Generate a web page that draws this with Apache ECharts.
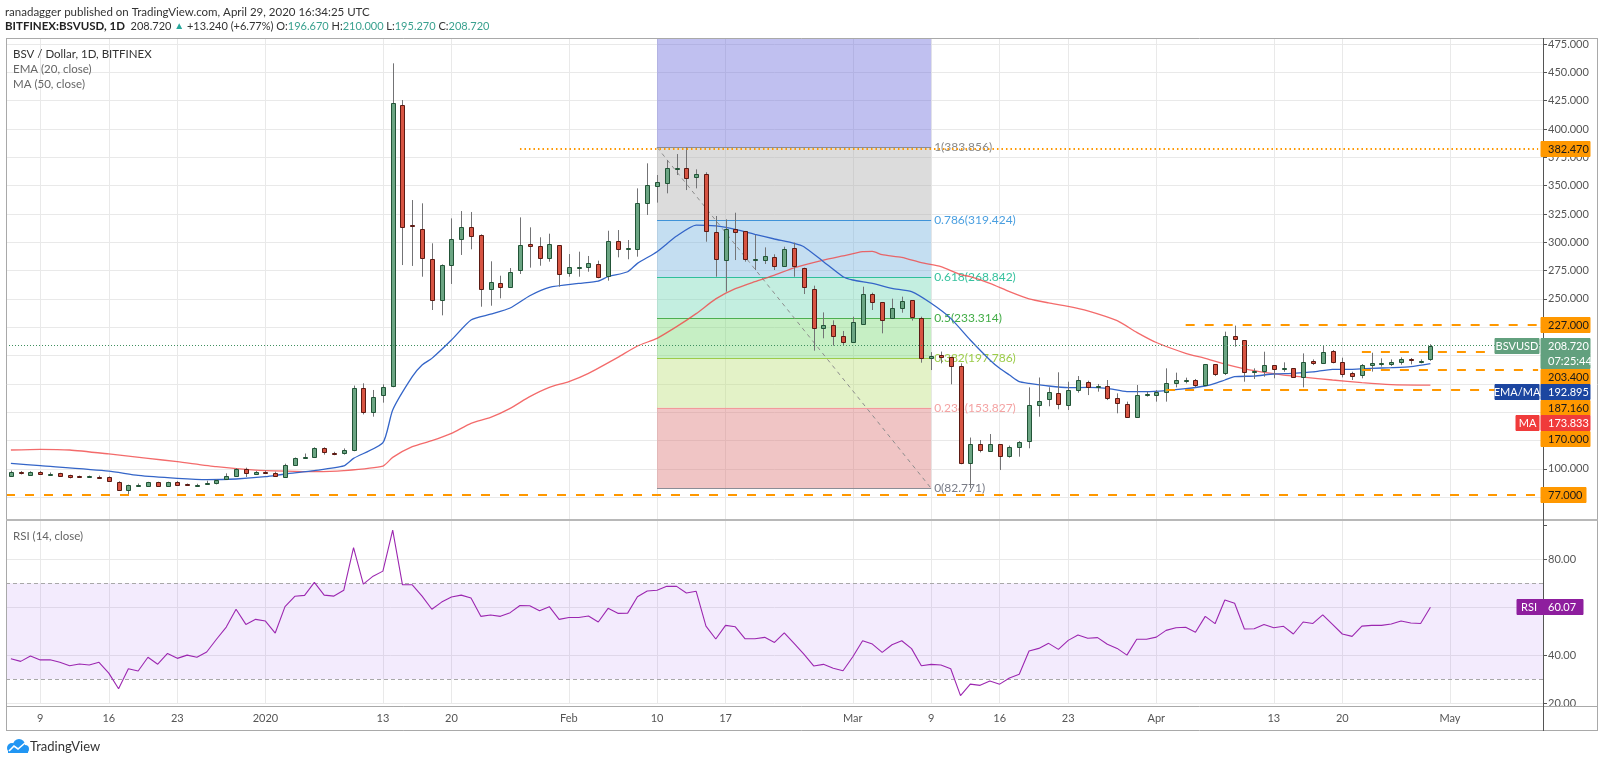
<!DOCTYPE html>
<html><head><meta charset="utf-8">
<script src="https://cdn.jsdelivr.net/npm/echarts@6/dist/echarts.min.js"></script>
<style>html,body{margin:0;padding:0;background:#fff;}#c{width:1600px;height:763px;}</style>
</head><body><div id="c"></div>
<script>
// ---------------- DATA ----------------
const firstDate = '2019-12-06';
const categoryCount = 157; // Dec 6 2019 .. May 10 2020
const tickLabels = {'2019-12-09':'9','2019-12-16':'16','2019-12-23':'23','2020-01-01':'2020','2020-01-13':'13','2020-01-20':'20','2020-02-01':'Feb','2020-02-10':'10','2020-02-17':'17','2020-03-01':'Mar','2020-03-09':'9','2020-03-16':'16','2020-03-23':'23','2020-04-01':'Apr','2020-04-13':'13','2020-04-20':'20','2020-05-01':'May'};

const opens = [93.9,97.5,94.8,97.5,95.6,96.0,94.2,93.4,93.3,93.2,
92.8,88.6,81.3,85.5,84.8,88.0,84.8,88.6,86.4,86.0,
86.6,87.2,90.7,93.6,99.8,95.4,97.2,96.6,93.0,103.1,
109.5,110.1,118.1,113.7,113.6,116.6,171.0,150.5,165.2,173.1,
421.2,315.0,311.4,285.2,249.0,279.9,302.9,313.8,306.4,258.4,
263.7,260.2,275.5,298.8,296.4,286.4,297.3,272.6,278.0,277.9,
280.5,270.5,301.1,294.3,293.8,334.4,349.6,352.0,365.5,365.3,
357.4,360.6,308.8,284.0,311.4,310.0,285.5,284.3,287.3,279.4,
294.7,277.6,258.4,224.0,226.7,217.5,211.7,227.5,254.0,247.3,
232.8,242.2,249.0,232.8,197.5,200.3,198.4,190.5,105.4,121.8,
115.5,121.9,111.6,119.6,124.6,156.0,161.3,167.0,156.0,169.3,
176.3,173.1,173.1,162.8,157.5,146.0,166.0,165.4,167.5,175.4,
178.4,178.4,174.0,192.2,184.9,217.5,213.4,186.3,186.6,191.3,
188.9,188.7,181.3,195.5,193.1,204.0,194.0,184.3,182.8,191.6,
193.4,192.2,194.0,196.9,195.2,196.67];
const highs = [98.4,98.0,97.8,98.0,96.8,96.5,94.8,94.0,94.0,94.0,
93.3,89.0,86.0,87.0,88.5,88.6,88.6,89.2,87.0,86.8,
89.5,90.7,96.0,100.7,101.0,98.0,98.5,97.5,104.5,110.0,
113.5,119.0,119.0,115.0,118.0,173.5,175.5,169.6,174.6,458.0,
425.6,337.3,334.4,299.1,280.5,321.1,327.6,326.7,307.0,283.2,
270.5,277.3,322.0,313.2,304.4,307.6,297.3,289.6,291.7,287.9,
283.8,310.2,310.8,302.0,347.6,369.7,359.4,372.6,377.9,383.86,
364.4,361.8,323.2,320.3,326.1,310.0,306.4,295.5,289.4,296.1,
299.7,277.6,261.7,238.1,231.1,221.7,234.3,260.8,255.5,247.3,
250.2,252.0,249.0,234.3,203.0,203.5,199.0,193.1,127.6,125.4,
130.7,121.9,120.5,124.5,171.9,180.6,172.0,185.2,176.9,181.9,
177.8,174.9,178.4,166.6,159.3,174.0,168.1,169.6,188.7,184.9,
180.5,179.3,192.2,192.2,221.1,226.4,213.4,188.7,203.4,191.3,
194.0,188.7,201.9,196.6,208.7,204.9,198.1,185.7,192.5,202.5,
197.5,196.6,198.4,197.8,196.6,210.0];
const lows = [93.3,95.0,94.3,94.6,94.8,93.5,91.5,92.5,92.7,92.5,
89.0,80.5,77.3,84.0,84.0,84.5,84.3,85.0,85.5,85.2,
86.0,86.2,90.3,93.0,92.8,94.5,96.0,93.0,92.5,102.5,
109.0,109.5,112.5,112.0,112.5,115.5,148.0,146.0,158.4,172.0,
279.9,279.1,269.6,240.2,235.5,263.2,288.8,293.8,243.1,244.0,
250.5,260.0,272.0,277.6,279.3,282.9,260.8,269.6,269.6,274.0,
268.2,266.1,286.7,285.0,287.3,324.1,335.0,343.2,359.4,346.1,
347.6,300.5,269.6,256.4,284.3,282.9,275.5,280.8,275.5,279.1,
269.6,254.3,204.3,215.2,208.7,209.3,211.7,227.5,240.2,219.6,
232.8,237.8,230.8,193.7,187.2,193.1,174.6,104.0,82.77,114.5,
115.1,98.9,109.8,110.7,118.1,146.0,155.2,152.5,151.9,167.2,
165.1,168.1,160.7,149.0,145.4,146.0,163.7,159.3,159.3,171.9,
175.4,171.9,174.0,181.9,182.8,207.8,176.9,179.3,181.3,179.9,
185.7,180.7,171.9,191.6,192.5,193.1,180.7,178.4,179.9,185.8,
190.2,190.8,191.9,192.2,193.1,195.27];
const closes = [97.5,96.0,97.2,95.1,95.8,93.9,92.5,93.2,93.4,93.0,
89.5,81.3,85.4,85.8,88.0,85.1,88.0,85.7,86.2,86.1,
87.8,90.1,93.6,99.8,96.0,97.2,97.0,93.6,103.1,109.2,
110.7,118.1,114.5,113.5,116.6,171.0,150.5,163.7,172.5,422.7,
313.2,314.3,286.4,249.0,279.9,302.9,313.8,305.8,258.4,264.6,
260.2,273.5,297.3,296.4,286.4,298.2,272.0,278.5,278.2,281.4,
269.6,301.1,293.8,295.2,334.4,350.6,352.9,365.3,365.6,357.0,
360.4,310.2,284.9,311.4,309.4,285.2,285.6,287.9,279.1,294.1,
279.1,260.2,224.6,226.7,217.5,212.0,229.3,254.0,247.6,231.4,
242.3,248.1,234.3,197.5,200.0,198.7,190.8,105.0,121.9,116.6,
121.9,111.7,119.6,123.4,156.0,159.9,167.8,157.0,169.3,178.4,
171.9,173.2,162.8,157.8,146.0,165.1,166.2,167.5,175.4,178.1,
178.5,174.0,192.2,184.0,217.5,214.3,185.7,186.4,191.3,187.8,
189.0,181.3,194.6,193.1,203.4,194.0,183.7,181.9,191.6,193.7,
193.5,194.3,196.9,195.8,195.48,208.72];

// EMA(20) and MA(50) at these day indexes
const ema20 = [[0,104.8],[3,102.8],[10,98.0],[13,94.2],[17,91.6],[20,90.4],[23,91.0],[26,93.0],[28,95.4],[31,98.4],[34,102.5],[35,109.2],[38,123.1],[39,151.9],[41,181.3],[42,191.6],[43,197.5],[45,213.7],[47,231.4],[49,236.5],[51,242.0],[53,252.8],[55,260.2],[58,263.7],[60,265.8],[61,269.6],[63,274.0],[64,281.4],[66,291.7],[68,305.5],[70,315.2],[72,314.4],[74,311.4],[76,307.0],[78,302.9],[80,299.1],[81,296.1],[83,282.9],[85,269.6],[86,266.7],[88,263.7],[90,259.3],[92,256.4],[94,246.1],[96,232.8],[98,213.7],[100,196.1],[101,188.7],[102,182.8],[103,176.9],[104,175.5],[106,173.1],[108,171.6],[110,171.9],[112,171.0],[114,168.1],[116,168.1],[118,169.0],[120,170.7],[122,173.1],[123,175.4],[124,178.4],[125,181.3],[127,181.9],[129,183.7],[131,184.3],[133,185.5],[135,187.8],[137,187.8],[139,188.7],[141,189.3],[143,190.2],[145,192.9]];
const ma50 = [[0,116.6],[3,117.2],[6,116.6],[10,113.1],[14,109.2],[17,106.3],[21,101.9],[25,98.9],[28,98.0],[31,97.5],[34,98.4],[38,102.4],[39,110.1],[41,119.5],[43,124.8],[45,131.3],[47,140.1],[49,145.4],[51,153.4],[53,163.7],[55,171.9],[57,177.0],[59,184.3],[62,198.4],[64,208.4],[66,215.2],[68,225.5],[70,237.0],[72,250.0],[74,259.0],[76,265.2],[78,271.0],[80,277.5],[83,284.3],[85,288.0],[87,291.7],[88,292.0],[89,289.0],[91,286.7],[93,282.0],[95,278.5],[97,271.5],[98,269.6],[100,263.7],[102,256.4],[104,250.0],[106,246.5],[108,243.5],[110,239.5],[113,230.8],[115,220.5],[117,211.5],[120,202.0],[122,197.5],[124,192.5],[127,186.6],[130,182.8],[132,181.0],[135,178.4],[138,176.0],[141,174.3],[145,173.8]];
const rsi14 = [38.6,37.5,39.7,38.1,38.2,37.1,35.7,36.4,36.0,37.1,
32.6,26.1,34.4,33.5,39.2,36.3,40.8,38.75,40.1,39.2,
41.4,46.7,51.8,59.2,52.9,55.0,54.3,49.3,60.3,64.6,
65.0,70.4,65.1,64.7,67.1,84.9,69.7,73.0,75.1,92.2,
69.4,69.4,64.7,59.2,62.2,64.3,65.1,63.9,56.25,56.8,
56.25,57.8,60.8,60.7,58.6,60.3,55.0,55.8,55.8,56.4,
53.9,59.6,57.5,57.6,64.4,66.8,67.1,68.75,68.75,66.0,
66.7,52.2,46.8,52.5,51.9,46.9,46.9,47.5,45.4,49.4,
45.0,40.5,35.6,36.25,34.6,33.6,39.4,46.1,44.7,41.25,
44.4,46.1,42.8,35.7,36.25,36.0,34.4,23.2,28.0,27.5,
29.3,28.0,30.6,32.1,41.8,42.9,45.0,42.5,46.25,48.5,
47.1,47.4,44.6,42.9,40.1,46.7,46.7,47.6,50.4,51.5,
51.7,49.6,56.25,53.2,63.1,61.7,51.0,51.1,52.9,51.5,
52.1,48.9,53.9,53.3,56.9,52.9,48.9,47.9,52.2,52.5,
52.5,53.1,54.3,53.5,53.3,60.07];

const fibRatios = ['1','0.786','0.618','0.5','0.382','0.236','0'];
const fibValues = [383.856,319.424,268.842,233.314,197.786,153.827,82.771];
const fibStart = '2020-02-10', fibEnd = '2020-03-09';
const levelValues = [382.47,227,203.4,187.16,170,77];
const levelStarts = ['2020-01-27','2020-04-04','2020-04-22','2020-04-22','2020-04-02',null];
const lastPrice = 208.72;
const emaLast = 192.895, maLast = 173.833, rsiLast = 60.07;
const priceTicksShown = [475,450,425,400,375,350,325,300,275,250,100];

// ---------------- STYLE ----------------
const FONT = 'Lato, "Liberation Sans", Arial, sans-serif';
const fibLineColors = ['#8a8d96','#3f93d8','#2fbf9b','#4caf50','#9ccc4a','#f29a9a','#8a8d96'];
const fibLabelColors = ['#8a8a8a','#4a9fe0','#37c29e','#43ad47','#9ccc4a','#f4a3a3','#787b86'];
const fibBandColors = ['rgba(168,168,168,0.4)','rgba(108,173,220,0.4)','rgba(105,213,178,0.4)','rgba(113,215,108,0.4)','rgba(185,223,115,0.4)','rgba(218,110,110,0.4)'];
const fibTopColor = 'rgba(98,98,218,0.4)';
const ORANGE = '#ff9800';

const dates = [];
{ const t0 = Date.parse(firstDate + 'T00:00:00Z');
  for (let k = 0; k < categoryCount; k++) dates.push(new Date(t0 + k * 864e5).toISOString().slice(0, 10)); }
const lastCat = dates[dates.length - 1];
const tickDates = Object.keys(tickLabels);
const candleData = opens.map((o, i) => [i, o, closes[i], lows[i], highs[i]]);

const chart = echarts.init(document.getElementById('c'), null, {renderer: 'canvas', width: 1600, height: 763});

const gridLeft = 6, gridRight = 57;
const vGrid = tickDates.map(d => ({xAxis: d}));

const fibAreas = [[{coord: [fibStart, fibValues[0]], itemStyle: {color: fibTopColor}}, {coord: [fibEnd, 480]}]];
for (let k = 0; k < 6; k++) fibAreas.push([{coord: [fibStart, fibValues[k]], itemStyle: {color: fibBandColors[k]}}, {coord: [fibEnd, fibValues[k + 1]]}]);
const fibLines = fibValues.map((v, k) => [
  {coord: [fibStart, v], lineStyle: {color: fibLineColors[k], width: 1, type: 'solid'},
   label: {show: true, position: 'end', distance: 3, formatter: fibRatios[k] + '(' + v.toFixed(3) + ')', color: fibLabelColors[k], fontSize: 12, fontFamily: FONT}},
  {coord: [fibEnd, v]}]);
fibLines.push([{coord: [fibStart, fibValues[0]], lineStyle: {color: '#8c8c8c', width: 1, type: [4, 4]}}, {coord: [fibEnd, fibValues[6]]}]);

const levelLines = levelValues.map((v, k) => {
  const st = k === 0 ? {color: ORANGE, width: 2, type: [1.5, 3]} : {color: ORANGE, width: 2, type: [9, 10]};
  if (levelStarts[k] === null) return {yAxis: v, lineStyle: st};
  return [{coord: [levelStarts[k], v], lineStyle: st}, {coord: [lastCat, v]}];
});
levelLines.push({yAxis: lastPrice, lineStyle: {color: '#3f8f5f', width: 1, type: [1, 2]}});

const markBase = {silent: true, symbol: ['none', 'none'], animation: false, label: {show: false}};

chart.setOption({
  animation: false,
  grid: [
    {left: gridLeft, right: gridRight, top: 38.41, height: 487.02},
    {left: gridLeft, right: gridRight, top: 520, height: 183.36}
  ],
  xAxis: [
    {type: 'category', gridIndex: 0, data: dates, boundaryGap: true, axisLine: {show: false}, axisTick: {show: false}, axisLabel: {show: false}, splitLine: {show: false}},
    {type: 'category', gridIndex: 1, data: dates, boundaryGap: true, axisLine: {show: false}, axisTick: {show: false},
     axisLabel: {show: true, interval: (i, v) => tickLabels[v] !== undefined, formatter: v => tickLabels[v] || '', color: '#555', fontSize: 11, fontFamily: FONT, margin: 10},
     splitLine: {show: false}}
  ],
  yAxis: [
    {type: 'value', gridIndex: 0, position: 'right', min: 50, max: 480, interval: 25,
     axisLine: {show: false}, axisTick: {show: true, length: 4, lineStyle: {color: '#555'}},
     axisLabel: {formatter: v => priceTicksShown.indexOf(v) >= 0 ? v.toFixed(3) : '', color: '#555', fontSize: 11, fontFamily: FONT, margin: 5},
     splitLine: {show: true, showMinLine: false, showMaxLine: false, lineStyle: {color: '#e9e9e9', width: 1}}},
    {type: 'value', gridIndex: 1, position: 'right', min: 20, max: 96.4, interval: 20,
     axisLine: {show: false}, axisTick: {show: true, length: 4, lineStyle: {color: '#555'}},
     axisLabel: {formatter: v => (v <= 80 && v % 20 === 0) ? v.toFixed(2) : '', color: '#555', fontSize: 11, fontFamily: FONT, margin: 5},
     splitLine: {show: true, showMaxLine: false, lineStyle: {color: '#e9e9e9', width: 1}}}
  ],
  series: [
    {type: 'line', name: 'vgrid0', xAxisIndex: 0, yAxisIndex: 0, z: 0, data: closes, showSymbol: false, silent: true, lineStyle: {opacity: 0},
     markLine: Object.assign({}, markBase, {z: 0, data: vGrid, lineStyle: {color: '#e9e9e9', width: 1, type: 'solid'}})},
    {type: 'line', name: 'fib', xAxisIndex: 0, yAxisIndex: 0, z: 1, data: closes, showSymbol: false, silent: true, lineStyle: {opacity: 0},
     markArea: {z: 1, silent: true, animation: false, data: fibAreas},
     markLine: Object.assign({}, markBase, {z: 2, data: fibLines})},
    {type: 'line', name: 'levels', xAxisIndex: 0, yAxisIndex: 0, z: 2, data: closes, showSymbol: false, silent: true, lineStyle: {opacity: 0},
     markLine: Object.assign({}, markBase, {z: 6, data: levelLines})},
    {type: 'line', name: 'MA', xAxisIndex: 0, yAxisIndex: 0, z: 3, data: ma50, showSymbol: false, smooth: 0.2, silent: true, lineStyle: {color: 'rgba(240,70,70,0.8)', width: 1.3}},
    {type: 'line', name: 'EMA', xAxisIndex: 0, yAxisIndex: 0, z: 3, data: ema20, showSymbol: false, smooth: 0.2, silent: true, lineStyle: {color: '#3465c8', width: 1.3}},
    {type: 'custom', name: 'BSVUSD', xAxisIndex: 0, yAxisIndex: 0, z: 5, data: candleData, encode: {x: 0, y: [1, 2, 3, 4]}, silent: true,
     renderItem: function (params, api) {
       const idx = api.value(0), o = api.value(1), c = api.value(2), l = api.value(3), h = api.value(4);
       const pO = api.coord([idx, o]), pC = api.coord([idx, c]), pL = api.coord([idx, l]), pH = api.coord([idx, h]);
       const cx = Math.round(pO[0]);
       const up = c >= o;
       let top = Math.round(Math.min(pO[1], pC[1])) + 0.5, bot = Math.round(Math.max(pO[1], pC[1])) + 0.5;
       if (bot - top < 1) bot = top + 1;
       return {type: 'group', children: [
         {type: 'line', shape: {x1: cx + 0.5, y1: pH[1], x2: cx + 0.5, y2: pL[1]}, style: {stroke: '#737375', lineWidth: 1}},
         {type: 'rect', shape: {x: cx - 1.5, y: top, width: 4, height: bot - top}, style: {fill: up ? '#6ba583' : '#d75442', stroke: up ? '#225437' : '#5b1a13', lineWidth: 1}}
       ]};
     }},
    {type: 'line', name: 'vgrid1', xAxisIndex: 1, yAxisIndex: 1, z: 0, data: rsi14, showSymbol: false, silent: true, lineStyle: {opacity: 0},
     markLine: Object.assign({}, markBase, {z: 0, data: vGrid, lineStyle: {color: '#e9e9e9', width: 1, type: 'solid'}})},
    {type: 'line', name: 'rsiband', xAxisIndex: 1, yAxisIndex: 1, z: 1, data: rsi14, showSymbol: false, silent: true, lineStyle: {opacity: 0},
     markArea: {z: 1, silent: true, animation: false, data: [[{yAxis: 30, itemStyle: {color: 'rgba(155,89,240,0.12)'}}, {yAxis: 70}]]},
     markLine: Object.assign({}, markBase, {z: 2, data: [{yAxis: 70}, {yAxis: 30}], lineStyle: {color: '#a8a8a8', width: 1, type: [4, 3]}})},
    {type: 'line', name: 'RSI', xAxisIndex: 1, yAxisIndex: 1, z: 3, data: rsi14, showSymbol: false, silent: true, lineStyle: {color: '#9c27b0', width: 1.1}}
  ]
});

// ---------------- OVERLAYS (text, frame, axis tags) ----------------
const G = [];
function txt(x, y, text, fill, size, extra) {
  G.push(Object.assign({type: 'text', z: 120, x: x, y: y, silent: true,
    style: {text: text, fill: fill, font: (size || 12) + 'px ' + FONT, textVerticalAlign: 'middle', verticalAlign: 'middle'}}, extra || {}));
}
function hline(x1, x2, y, color, w) { G.push({type: 'line', z: 110, silent: true, shape: {x1: x1, y1: y, x2: x2, y2: y}, style: {stroke: color, lineWidth: w || 1}}); }
function vline(x, y1, y2, color, w) { G.push({type: 'line', z: 110, silent: true, shape: {x1: x, y1: y1, x2: x, y2: y2}, style: {stroke: color, lineWidth: w || 1}}); }
function tagBox(x, yc, w, fill, text, tcolor, center) {
  G.push({type: 'rect', z: 130, silent: true, shape: {x: x, y: Math.round(yc - 7.75) + 0.5, width: w, height: 15}, style: {fill: fill, stroke: fill, lineWidth: 1}});
  G.push({type: 'text', z: 131, silent: true, x: center ? x + w / 2 : x + 7, y: yc + 0.5,
    style: {text: text, fill: tcolor, font: '11px ' + FONT, textAlign: center ? 'center' : 'left', align: center ? 'center' : 'left', textVerticalAlign: 'middle', verticalAlign: 'middle'}});
}

// frame
hline(6, 1597.5, 38.5, '#a9a9a9');
hline(6, 1597.5, 730.5, '#a9a9a9');
vline(6.5, 38, 731, '#a9a9a9');
vline(1597.5, 38, 731, '#a9a9a9');
hline(6, 1597.5, 520, '#b8b8b8', 2);
hline(6, 1597.5, 706.5, '#a9a9a9');
vline(1543.5, 38, 731, '#555555');

// header
G.push({type: 'text', z: 120, x: 5, y: 12, silent: true, style: {text: 'ranadagger published on TradingView.com, April 29, 2020 16:34:25 UTC', fill: '#333', font: '11.5px ' + FONT, textVerticalAlign: 'middle', verticalAlign: 'middle'}});
G.push({type: 'text', z: 120, x: 5, y: 26, silent: true, style: {
  text: '{b|BITFINEX:BSVUSD, 1D}  {n|208.720} {g|▲} {n|+13.240 (+6.77%)} {n|O:}{v|196.670} {n|H:}{v|210.000} {n|L:}{v|195.270} {n|C:}{v|208.720}',
  font: '11px ' + FONT, textVerticalAlign: 'middle', verticalAlign: 'middle',
  rich: {
    b: {fill: '#222', color: '#222', fontWeight: 'bold', fontSize: 11.5, fontFamily: FONT},
    n: {fill: '#333', color: '#333', fontSize: 11, fontFamily: FONT},
    g: {fill: '#26a69a', color: '#26a69a', fontSize: 10, fontFamily: FONT},
    v: {fill: '#3aa18f', color: '#3aa18f', fontSize: 11, fontFamily: FONT}
  }}});

// pane legends
txt(13, 54, 'BSV / Dollar, 1D, BITFINEX', '#333', 11.5);
txt(13, 69, 'EMA (20, close)', '#666', 11.5);
txt(13, 84, 'MA (50, close)', '#666', 11.5);
txt(13, 536, 'RSI (14, close)', '#666', 11.5);

// footer logo
G.push({type: 'circle', z: 120, silent: true, shape: {cx: 12, cy: 748, r: 5}, style: {fill: '#2196f3'}});
G.push({type: 'circle', z: 120, silent: true, shape: {cx: 19, cy: 745, r: 6}, style: {fill: '#2196f3'}});
G.push({type: 'circle', z: 120, silent: true, shape: {cx: 25, cy: 749, r: 4}, style: {fill: '#2196f3'}});
G.push({type: 'rect', z: 120, silent: true, shape: {x: 8, y: 748, width: 20, height: 5}, style: {fill: '#2196f3'}});
G.push({type: 'polyline', z: 121, silent: true, shape: {points: [[9, 751], [14, 746], [18, 749], [25, 743]]}, style: {stroke: '#fff', lineWidth: 1.6, fill: null}});
txt(30, 747, 'TradingView', '#333', 13);

// right-axis tags, stacked like the original
const yOf = v => chart.convertToPixel({yAxisIndex: 0}, v);
const tags = [
  {v: levelValues[0], t: levelValues[0].toFixed(3), k: 'o'},
  {v: levelValues[1], t: levelValues[1].toFixed(3), k: 'o'},
  {v: lastPrice, t: lastPrice.toFixed(3), k: 'p', tag: 'BSVUSD', sub: '07:25:44'},
  {v: levelValues[2], t: levelValues[2].toFixed(3), k: 'o'},
  {v: emaLast, t: emaLast.toFixed(3), k: 'e', tag: 'EMA/MA'},
  {v: levelValues[3], t: levelValues[3].toFixed(3), k: 'o'},
  {v: maLast, t: maLast.toFixed(3), k: 'm', tag: 'MA'},
  {v: levelValues[4], t: levelValues[4].toFixed(3), k: 'o'},
  {v: levelValues[5], t: levelValues[5].toFixed(3), k: 'o'}
];
const colorOf = {o: ORANGE, p: '#62a07e', e: '#1c46a0', m: '#f03b3b'};
let nextMin = -1e9;
tags.forEach(tg => {
  let y = Math.max(yOf(tg.v), nextMin);
  const fill = colorOf[tg.k], tcol = tg.k === 'o' ? '#1a1a1a' : '#fff';
  tagBox(1541, y, tg.v < 100 ? 45 : 49, fill, tg.t, tcol, false);
  if (tg.tag) {
    const w = tg.tag === 'MA' ? 23 : 44;
    tagBox(1539 - w, y, w, fill, tg.tag, '#fff', true);
  }
  nextMin = y + 15.5;
  if (tg.sub) { tagBox(1541, y + 15.5, 49, fill, tg.sub, '#fff', false); nextMin = y + 31; }
});
const yR = chart.convertToPixel({yAxisIndex: 1}, rsiLast);
tagBox(1541, yR, 42, '#8e1e9e', rsiLast.toFixed(2), '#fff', false);
tagBox(1517, yR, 24, '#8e1e9e', 'RSI', '#fff', true);

chart.setOption({graphic: {elements: G}});
</script>
</body></html>
